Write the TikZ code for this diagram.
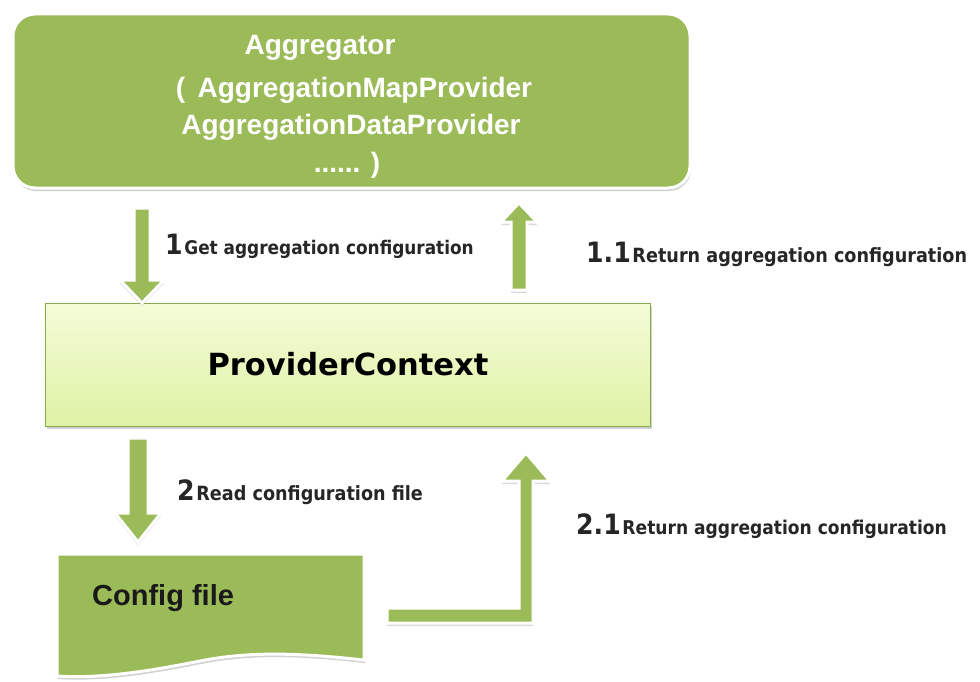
\documentclass[tikz,border=0pt]{standalone}
\usepackage{fontspec}
\setmainfont{Liberation Sans}
\newfontfamily\dvfont{DejaVu Sans}
\newfontfamily\dvcfont{DejaVu Sans Condensed}
\usetikzlibrary{shadows}
\definecolor{olive}{HTML}{9BBB59}
\definecolor{pctop}{HTML}{F4FCD8}
\definecolor{pcbot}{HTML}{DEF2A4}
\definecolor{lbl}{HTML}{262626}
\tikzset{
  blockarrow/.style={fill=olive, draw=white, line width=3pt, line join=miter,
    drop shadow={shadow xshift=0pt, shadow yshift=-3pt, opacity=0.25, fill=black!60}},
  aggtext/.style={text=white, font=\fontsize{28}{34}\selectfont\bfseries, anchor=base, inner sep=0pt},
  lbltext/.style={text=lbl, anchor=base west, inner sep=0pt},
}
\newcommand{\varrowdraw}[6]{% x, tail y, tip y, shaft half, head half, head base y
  \path[blockarrow] (#1-#4,#2) -- (#1+#4,#2) -- (#1+#4,#6) -- (#1+#5,#6) -- (#1,#3)
    -- (#1-#5,#6) -- (#1-#4,#6) -- cycle;}
\newcommand{\lbl}[3]{{\dvcfont\bfseries\fontsize{28}{30}\selectfont #1}\,{\dvcfont\bfseries\fontsize{#3}{20}\selectfont #2}}
\begin{document}
\begin{tikzpicture}[x=1pt,y=-1pt]
\useasboundingbox (0,0) rectangle (980,682);
% Aggregator box
\node[draw=white, line width=3pt, fill=olive, rounded corners=22pt,
      minimum width=677pt, minimum height=174pt, inner sep=0pt,
      drop shadow={shadow xshift=1pt, shadow yshift=-3pt, opacity=0.3, fill=black!60}]
      (agg) at (351.5,101) {};
\node[aggtext] (agg1) at (320,55) {Aggregator};
\node[aggtext] (agg2) at (354,98) {(\, AggregationMapProvider};
\node[aggtext] (agg3) at (351,135) {AggregationDataProvider};
\node[aggtext] (agg4) at (347,172) {...... )};
% ProviderContext box
\node[draw=olive!90!black, line width=0.8pt, top color=pctop, bottom color=pcbot,
      minimum width=605pt, minimum height=123pt, inner sep=0pt,
      drop shadow={shadow xshift=2pt, shadow yshift=-3pt, opacity=0.3, fill=black!60}]
      (pc) at (347.5,364.5) {};
\node[anchor=base, inner sep=0pt, font=\dvfont\bfseries\fontsize{30.5}{34}\selectfont] (pct) at (348,375) {ProviderContext};
% Config file (document shape)
\path[fill=olive, draw=white, line width=3pt,
      drop shadow={shadow xshift=1pt, shadow yshift=-3pt, opacity=0.3, fill=black!60}]
  (57,554) -- (364,554) -- (364,660) .. controls (300,653) and (250,651) .. (200,661)
  .. controls (150,671) and (100,679) .. (57,676) -- cycle;
\node[anchor=base west, inner sep=0pt, text=black!90, font=\bfseries\fontsize{29}{32}\selectfont] (cfg) at (92,605) {Config file};
% arrows
\varrowdraw{142}{208}{303}{8}{22}{280}
\varrowdraw{519}{290}{203}{8}{18}{222}
\varrowdraw{138}{438}{542}{10}{23}{513}
\path[blockarrow] (387,608) -- (519,608) -- (519,481) -- (502,481) -- (526,453)
  -- (550,481) -- (533,481) -- (533,623) -- (387,623) -- cycle;
% labels
\node[lbltext] (l1) at (165,254) {\lbl{1}{Get aggregation configuration}{18.8}};
\node[lbltext] (l11) at (586,262) {\lbl{1.1}{Return aggregation configuration}{19.6}};
\node[lbltext] (l2) at (177,500) {\lbl{2}{Read configuration file}{19.6}};
\node[lbltext] (l21) at (576,534) {\lbl{2.1}{Return aggregation configuration}{19}};
\end{tikzpicture}
\end{document}
